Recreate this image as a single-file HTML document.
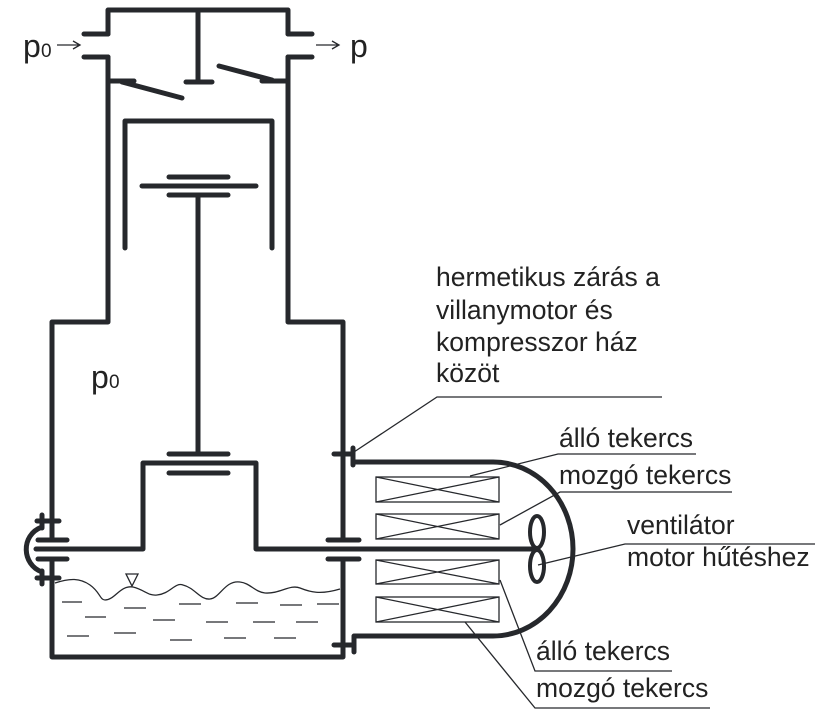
<!DOCTYPE html>
<html><head><meta charset="utf-8"><style>
html,body{margin:0;padding:0;background:#fff;}
svg{display:block;}
text{font-family:"Liberation Sans",Arial,sans-serif;fill:#222;}
</style></head><body>
<svg width="825" height="716" viewBox="0 0 825 716" xmlns="http://www.w3.org/2000/svg">
<g stroke="#26282c" stroke-width="5" fill="none" stroke-linecap="round" stroke-linejoin="round">
<polyline points="108,34 108,10 288,10 288,34"/>
<line x1="198" y1="10" x2="198" y2="82"/>
<line x1="186" y1="82" x2="212" y2="82"/>
<line x1="84" y1="34" x2="108" y2="34"/>
<line x1="84" y1="57" x2="108" y2="57"/>
<line x1="288" y1="34" x2="312" y2="34"/>
<line x1="288" y1="57" x2="312" y2="57"/>
<polyline points="108,57 108,322 52,322 52,540"/>
<polyline points="288,57 288,322 343,322 343,540"/>
<polyline points="52,559 52,657 343,657 343,559"/>
<line x1="110" y1="81" x2="134" y2="81"/>
<line x1="122" y1="82" x2="182" y2="98"/>
<line x1="219" y1="66" x2="272" y2="80"/>
<line x1="262" y1="81" x2="286" y2="81"/>
<polyline points="125,248 125,121 272,121 272,248"/>
<line x1="169" y1="177" x2="228" y2="177"/>
<line x1="142" y1="186" x2="256" y2="186"/>
<line x1="169" y1="195" x2="228" y2="195"/>
<line x1="198" y1="195" x2="198" y2="454"/>
<line x1="169" y1="454" x2="228" y2="454"/>
<line x1="169" y1="473" x2="228" y2="473"/>
<polyline points="36,549 143,549 143,463 256,463 256,549 537,549"/>
<line x1="38" y1="540" x2="67" y2="540"/>
<line x1="38" y1="559" x2="67" y2="559"/>
<line x1="37" y1="521" x2="59" y2="521"/>
<line x1="37" y1="578" x2="59" y2="578"/>
<line x1="42" y1="515" x2="42" y2="528"/>
<line x1="42" y1="571" x2="42" y2="584"/>
<path d="M42,527 C20,535 22,565 42,572"/>
<line x1="328" y1="540" x2="359" y2="540"/>
<line x1="328" y1="559" x2="359" y2="559"/>
<line x1="334" y1="454" x2="353" y2="454"/>
<line x1="353" y1="448" x2="353" y2="465"/>
<line x1="334" y1="645" x2="354" y2="645"/>
<line x1="354" y1="637" x2="354" y2="652"/>
<path d="M354,462 L493,462 A80,87 0 0 1 493,636 L354,636"/>
<ellipse cx="537" cy="532" rx="7" ry="16" stroke-width="4"/>
<ellipse cx="537" cy="566" rx="7" ry="16" stroke-width="4"/>
</g>
<g stroke="#26282c" stroke-width="1.3" fill="none">
<rect x="376" y="477" width="123" height="25"/>
<path d="M376,477 L499,502 M376,502 L499,477"/>
<rect x="376" y="514" width="123" height="25"/>
<path d="M376,514 L499,539 M376,539 L499,514"/>
<rect x="376" y="560" width="123" height="24"/>
<path d="M376,560 L499,584 M376,584 L499,560"/>
<rect x="376" y="597" width="123" height="25"/>
<path d="M376,597 L499,622 M376,622 L499,597"/>
<path d="M55,583 C70,578 80,578 90,585 C100,592 100,600 105,600 C115,600 120,585 133,587 C145,590 148,596 157,595 C170,594 175,582 183,585 C195,588 200,600 210,599 C220,598 225,580 240,582 C250,583 255,592 265,593 C280,594 290,584 300,588 C310,592 320,595 340,589"/>
<path d="M126,574 L138,574 L132,586 Z"/>
<path d="M62,602 H82 M124,608 H146 M179,604 H201 M236,603 H258 M280,605 H302 M317,604 H339 M85,617 H106 M153,620 H175 M206,622 H228 M253,622 H275 M296,622 H318 M67,636 H89 M114,633 H136 M170,640 H192 M224,638 H246 M274,638 H296"/>
<polyline points="662,397 437,397 354,452"/>
<polyline points="696,454 558,454 470,476"/>
<polyline points="732,492 560,492 500,525"/>
<polyline points="815,544 625,544 538,565"/>
<polyline points="672,671 535,671 500,580"/>
<polyline points="710,708 535,708 465,622"/>
<path d="M57,45 H80 M73,41 L80,45 L73,49"/>
<path d="M316,45 H339 M332,41 L339,45 L332,49"/>
</g>
<text x="23" y="57" font-size="32">p</text><text x="41" y="57" font-size="19">0</text>
<text x="350" y="57" font-size="32">p</text>
<text x="91" y="388" font-size="32">p</text><text x="109" y="388" font-size="19">0</text>
<g font-size="26.5">
<text x="436" y="286">hermetikus zárás a</text>
<text x="436" y="319">villanymotor és</text>
<text x="436" y="351">kompresszor ház</text>
<text x="436" y="382">közöt</text>
<text x="559" y="447">álló tekercs</text>
<text x="559" y="484">mozgó tekercs</text>
<text x="627" y="534">ventilátor</text>
<text x="627" y="566">motor hűtéshez</text>
<text x="536" y="660">álló tekercs</text>
<text x="536" y="697">mozgó tekercs</text>
</g>
</svg>
</body></html>
